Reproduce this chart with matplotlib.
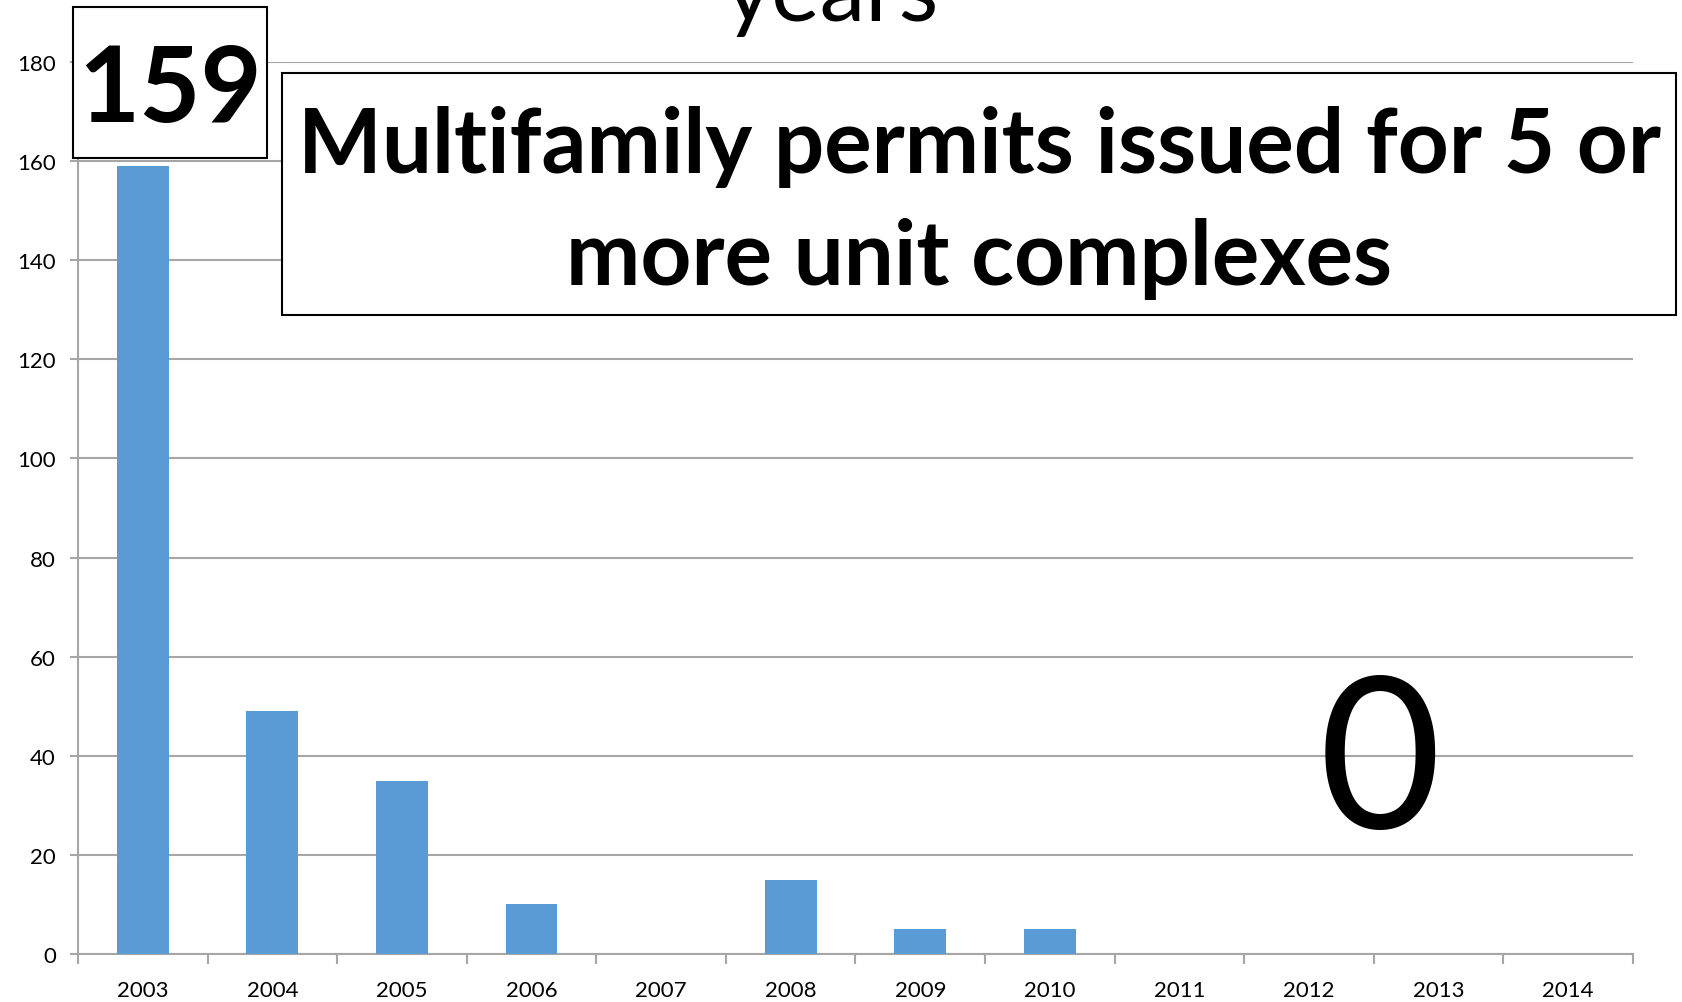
import matplotlib
matplotlib.use("Agg")
import matplotlib.pyplot as plt
from matplotlib.patches import Rectangle

plt.rcParams['font.family'] = ['Lato', 'DejaVu Sans']

years = ["2003", "2004", "2005", "2006", "2007", "2008",
         "2009", "2010", "2011", "2012", "2013", "2014"]
permits = [159, 49, 35, 10, 0, 15, 5, 5, 0, 0, 0, 0]
y_ticks = [0, 20, 40, 60, 80, 100, 120, 140, 160, 180]

W, H = 1682, 1003
bar_color = "#5B9BD5"
grid_color = "#A6A6A6"


def fx(px):
    return px / W


def fy(py):
    return 1 - py / H


fig = plt.figure(figsize=(W / 100, H / 100), dpi=100)
ax = fig.add_axes([fx(78), fy(955), fx(1633) - fx(78), fy(63) - fy(955)])

x = list(range(len(years)))
ax.bar(x, permits, width=0.4, color=bar_color, zorder=3)

ax.set_xlim(-0.5, len(years) - 0.5)
ax.set_ylim(0, 180)
ax.set_yticks(y_ticks)
ax.set_yticklabels([str(v) for v in y_ticks], fontsize=16)
ax.set_xticks(x)
ax.set_xticklabels(years, fontsize=16)
ax.set_xticks([i - 0.5 for i in range(len(years) + 1)], minor=True)
ax.tick_params(axis="x", which="major", length=0, pad=19)
ax.tick_params(axis="x", which="minor", length=7, color=grid_color, width=1.5)
ax.tick_params(axis="y", length=6, color=grid_color, width=1.5, pad=10)
ax.yaxis.grid(True, color=grid_color, linewidth=1.5, zorder=0)
ax.set_axisbelow(True)
for side in ["top", "right"]:
    ax.spines[side].set_visible(False)
for side in ["left", "bottom"]:
    ax.spines[side].set_color(grid_color)
    ax.spines[side].set_linewidth(1.5)

# clipped chart title at the very top
fig.text(fx(831), fy(21), "years", ha="center", va="baseline", fontsize=66)

# boxed labels
fig.patches.append(Rectangle((fx(73), fy(159)), fx(267) - fx(73), fy(8) - fy(159),
                             transform=fig.transFigure, facecolor="white",
                             edgecolor="black", linewidth=1.5, zorder=5))
fig.text(fx(170), fy(92), "159", ha="center", va="center", fontsize=76,
         fontweight="bold", zorder=6)

fig.patches.append(Rectangle((fx(282), fy(316)), fx(1676) - fx(282), fy(74) - fy(316),
                             transform=fig.transFigure, facecolor="white",
                             edgecolor="black", linewidth=1.5, zorder=5))
fig.text(fx(979), fy(203), "Multifamily permits issued for 5 or\nmore unit complexes",
         ha="center", va="center", fontsize=64, fontweight="bold",
         linespacing=1.45, zorder=6)

fig.text(fx(1380), fy(768), "0", ha="center", va="center", fontsize=152, zorder=6)

fig.savefig("out.png", dpi=100)
